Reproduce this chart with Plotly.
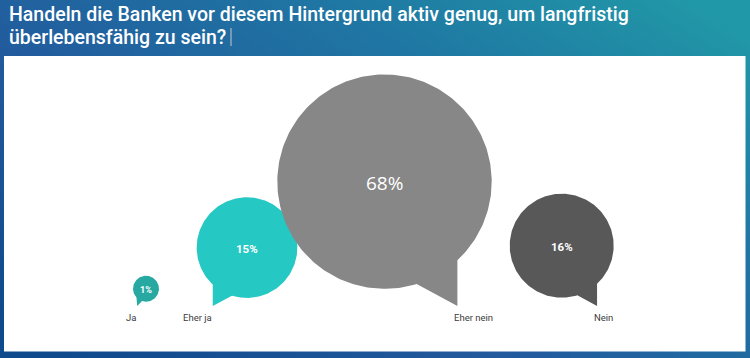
import base64
import numpy as np
import plotly.graph_objects as go

# ---------------- data ----------------
categories = ["Ja", "Eher ja", "Eher nein", "Nein"]
values = [1, 15, 68, 16]
pct_labels = ["1%", "15%", "68%", "16%"]
title_lines = ["Handeln die Banken vor diesem Hintergrund aktiv genug, um langfristig",
               "überlebensfähig zu sein?"]

# ---------------- layout / style ----------------
W, H = 750, 358
center_x = [146, 247, 384.5, 561.7]      # horizontal placement of bubbles (px)
tail_side = [-1, -1, 1, 1]               # tail to the left / right
colors = ["#27a9a1", "#26c8c4", "#878787", "#585858"]
pct_sizes = [9, 11.5, 19, 11.5]
pct_fonts = ["Roboto", "Roboto", "Open Sans", "Roboto"]
pct_weights = ["bold", "bold", "normal", "bold"]
k = 13.0          # radius = k * sqrt(value)
tip_y = 306.0     # baseline of tails
label_y = 317.0

fig = go.Figure()

for cat, v, cx, side, col, pct, ps, pf, pw in zip(categories, values, center_x, tail_side,
                                                  colors, pct_labels, pct_sizes, pct_fonts, pct_weights):
    r = k * np.sqrt(v)
    gap = max(4.3, 0.16 * r)
    cy = tip_y - gap - r
    av = np.degrees(np.arccos(0.68))
    ad = np.degrees(np.arccos(0.30))
    if side > 0:
        th = np.radians(np.linspace(ad, av + 360, 240))
    else:
        th = np.radians(np.linspace(180 - av, 180 - ad + 360, 240))
    tipx = cx + side * 0.68 * r
    xs = np.concatenate([[tipx], cx + r * np.cos(th), [tipx]])
    ys = np.concatenate([[tip_y], cy + r * np.sin(th), [tip_y]])
    fig.add_trace(go.Scatter(x=xs, y=ys, mode="lines", fill="toself", fillcolor=col,
                             line=dict(width=0, color=col), hoverinfo="skip", showlegend=False))
    fig.add_annotation(x=cx, y=cy + 1, text=pct, showarrow=False,
                       font=dict(family=pf, size=ps, color="white", weight=pw),
                       xanchor="center", yanchor="middle")
    fig.add_annotation(x=tipx + (1 if side < 0 else -5), y=label_y, text=cat, showarrow=False,
                       font=dict(family="Roboto", size=9.5, color="#3c3c3c"),
                       xanchor="right" if side < 0 else "left", yanchor="middle")

# title
fig.add_annotation(x=7, y=14, text=title_lines[0], showarrow=False, xanchor="left", yanchor="middle",
                   font=dict(family="Roboto", size=19.5, color="white", weight=500))
fig.add_annotation(x=7, y=37, text=title_lines[1], showarrow=False, xanchor="left", yanchor="middle",
                   font=dict(family="Roboto", size=19.5, color="white", weight=500))

# gradient background as SVG
svg = f'''<svg xmlns="http://www.w3.org/2000/svg" width="{W}" height="{H}" viewBox="0 0 {W} {H}" preserveAspectRatio="none">
<defs><linearGradient id="g" x1="0" y1="0.9" x2="1" y2="0.1">
<stop offset="0" stop-color="#0f4a8c"/>
<stop offset="0.35" stop-color="#22599d"/>
<stop offset="0.7" stop-color="#1f76a3"/>
<stop offset="1" stop-color="#2198a7"/>
</linearGradient></defs>
<rect width="{W}" height="{H}" fill="url(#g)"/></svg>'''
src = "data:image/svg+xml;base64," + base64.b64encode(svg.encode()).decode()
fig.add_layout_image(dict(source=src, xref="paper", yref="paper", x=0, y=1, sizex=1, sizey=1,
                          sizing="stretch", layer="below", xanchor="left", yanchor="top"))

# white panel
fig.add_shape(type="rect", x0=4, x1=745.5, y0=56, y1=351.5, fillcolor="white",
              line=dict(width=0), layer="below")
# text caret after title
fig.add_shape(type="line", x0=231, x1=231, y0=28, y1=46, line=dict(color="#c8c8c8", width=1))

fig.update_layout(
    width=W, height=H, margin=dict(l=0, r=0, t=0, b=0),
    paper_bgcolor="#1f5a9c", plot_bgcolor="rgba(0,0,0,0)",
    xaxis=dict(range=[0, W], visible=False, fixedrange=True),
    yaxis=dict(range=[H, 0], visible=False, fixedrange=True),
    showlegend=False,
)

fig.write_html("out.html", config={"displayModeBar": False},
               post_script="document.body.style.margin='0';document.body.style.overflow='hidden';")
